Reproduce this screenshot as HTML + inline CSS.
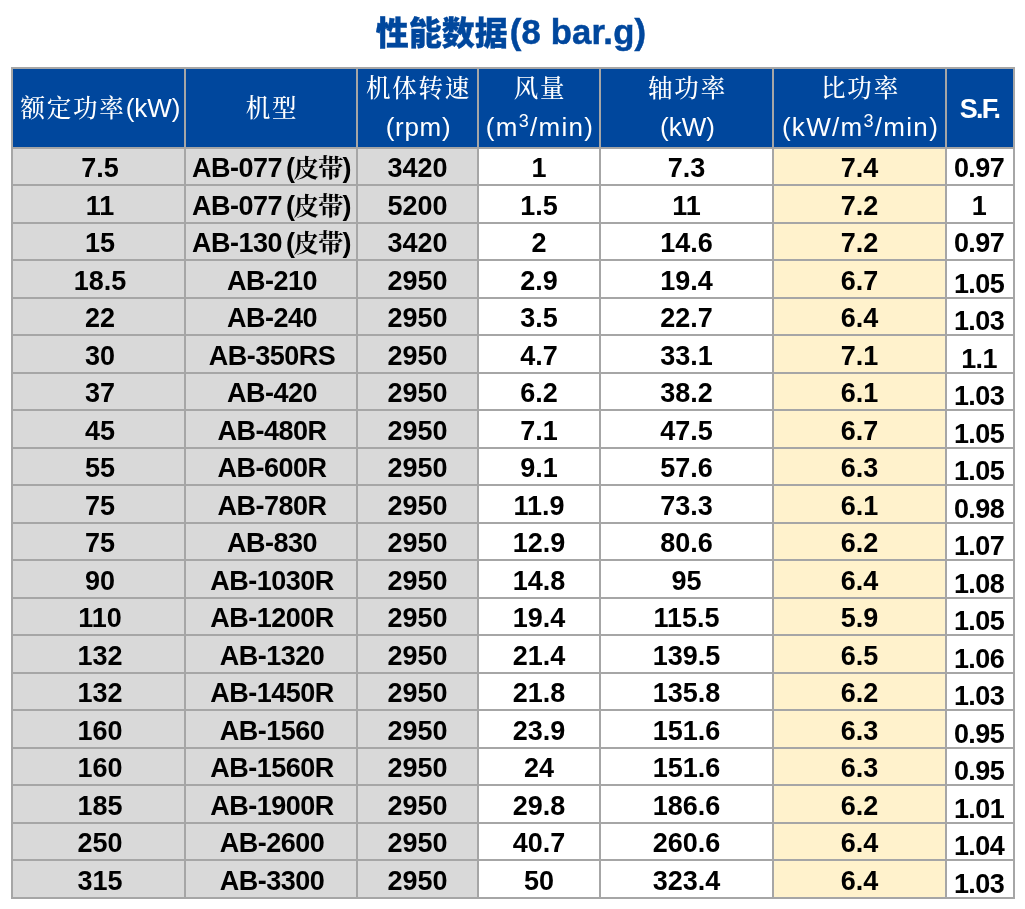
<!DOCTYPE html><html lang="zh-CN"><head><meta charset="utf-8"><title>性能数据(8 bar.g)</title><style>
html,body{margin:0;padding:0;background:#fff;}
body{width:1025px;height:909px;position:relative;overflow:hidden;font-family:"Liberation Sans","Noto Sans CJK SC",sans-serif;}
#title{position:absolute;left:-1.5px;top:8px;width:1025px;height:48px;line-height:48px;text-align:center;color:#00479d;font-weight:bold;font-size:34.67px;white-space:nowrap;}
#title .zh{font-family:"Noto Sans CJK SC",sans-serif;font-weight:900;font-size:33px;letter-spacing:0;line-height:0;position:relative;top:0.5px;margin-right:2px;-webkit-text-stroke:0.35px #00479d;}
#title .la{-webkit-text-stroke:0.5px #00479d;letter-spacing:0.2px;}
#grid{position:absolute;left:11px;top:67px;width:1004px;height:832px;background:#a6a6a6;}
.h,.d{position:absolute;text-align:center;white-space:nowrap;overflow:hidden;box-sizing:border-box;}
.h{background:#00479d;color:#fff;font-size:26.5px;top:69px;height:78px;line-height:39px;}
.h.one{line-height:78px;}
.h{padding-left:2px;}
.h1{padding-left:4px;}
.h7{padding-left:0;padding-right:1px;}
.h .c{font-family:"Noto Serif CJK SC","Noto Sans CJK SC",serif;font-weight:500;font-size:24.5px;letter-spacing:1.8px;line-height:0;}
.h .l{font-size:26px;}
.h sup{font-size:18px;line-height:0;vertical-align:baseline;position:relative;top:-9px;}
.h b{font-size:27px;letter-spacing:-1.7px;position:relative;top:1px;}
.d{color:#000;font-weight:bold;font-size:27px;}
.c1{padding-left:3px;}
.c2{letter-spacing:-0.5px;}
.c2.s{padding-left:2px;}
.c7{letter-spacing:-0.6px;padding-right:2px;}
.d .c{font-family:"Noto Serif CJK SC","Noto Sans CJK SC",serif;font-weight:700;line-height:0;font-size:25.5px;letter-spacing:-1px;}
.d .p{letter-spacing:-1.5px;margin-left:-3px;}
.g{background:#d9d9d9;}
.w{background:#fff;}
.y{background:#fff2cc;}
</style></head><body>
<div id="title"><span class="zh">性能数据</span><span class="la">(8 bar.g)</span></div>
<div id="grid"></div>
<div class="h one h1" style="left:13px;width:171px"><span class="c">额定功率</span><span class="l">(kW)</span></div>
<div class="h one h2" style="left:186px;width:170px"><span class="c">机型</span></div>
<div class="h h3" style="left:358px;width:119px"><span class="c">机体转速</span><br><span class="l" style="letter-spacing:0.7px">(rpm)</span></div>
<div class="h h4" style="left:479px;width:120px"><span class="c">风量</span><br><span class="l" style="letter-spacing:1.3px">(m<sup>3</sup>/min)</span></div>
<div class="h h5" style="left:601px;width:171px"><span class="c">轴功率</span><br><span class="l">(kW)</span></div>
<div class="h h6" style="left:774px;width:171px"><span class="c">比功率</span><br><span class="l" style="letter-spacing:1.3px">(kW/m<sup>3</sup>/min)</span></div>
<div class="h one h7" style="left:947px;width:66px"><b>S.F.</b></div>
<div class="d g c1" style="left:13px;top:149px;width:171px;height:35px;line-height:39px">7.5</div>
<div class="d g c2" style="left:186px;top:149px;width:170px;height:35px;line-height:39px">AB-077 <span class="p">(<span class="c">皮带</span>)</span></div>
<div class="d g c3" style="left:358px;top:149px;width:119px;height:35px;line-height:39px">3420</div>
<div class="d w c4" style="left:479px;top:149px;width:120px;height:35px;line-height:39px">1</div>
<div class="d w c5" style="left:601px;top:149px;width:171px;height:35px;line-height:39px">7.3</div>
<div class="d y c6" style="left:774px;top:149px;width:171px;height:35px;line-height:39px">7.4</div>
<div class="d w c7" style="left:947px;top:149px;width:66px;height:35px;line-height:39px">0.97</div>
<div class="d g c1" style="left:13px;top:186px;width:171px;height:36px;line-height:40px">11</div>
<div class="d g c2" style="left:186px;top:186px;width:170px;height:36px;line-height:40px">AB-077 <span class="p">(<span class="c">皮带</span>)</span></div>
<div class="d g c3" style="left:358px;top:186px;width:119px;height:36px;line-height:40px">5200</div>
<div class="d w c4" style="left:479px;top:186px;width:120px;height:36px;line-height:40px">1.5</div>
<div class="d w c5" style="left:601px;top:186px;width:171px;height:36px;line-height:40px">11</div>
<div class="d y c6" style="left:774px;top:186px;width:171px;height:36px;line-height:40px">7.2</div>
<div class="d w c7" style="left:947px;top:186px;width:66px;height:36px;line-height:40px">1</div>
<div class="d g c1" style="left:13px;top:224px;width:171px;height:35px;line-height:39px">15</div>
<div class="d g c2" style="left:186px;top:224px;width:170px;height:35px;line-height:39px">AB-130 <span class="p">(<span class="c">皮带</span>)</span></div>
<div class="d g c3" style="left:358px;top:224px;width:119px;height:35px;line-height:39px">3420</div>
<div class="d w c4" style="left:479px;top:224px;width:120px;height:35px;line-height:39px">2</div>
<div class="d w c5" style="left:601px;top:224px;width:171px;height:35px;line-height:39px">14.6</div>
<div class="d y c6" style="left:774px;top:224px;width:171px;height:35px;line-height:39px">7.2</div>
<div class="d w c7" style="left:947px;top:224px;width:66px;height:35px;line-height:39px">0.97</div>
<div class="d g c1" style="left:13px;top:261px;width:171px;height:36px;line-height:40px">18.5</div>
<div class="d g c2 s" style="left:186px;top:261px;width:170px;height:36px;line-height:40px">AB-210</div>
<div class="d g c3" style="left:358px;top:261px;width:119px;height:36px;line-height:40px">2950</div>
<div class="d w c4" style="left:479px;top:261px;width:120px;height:36px;line-height:40px">2.9</div>
<div class="d w c5" style="left:601px;top:261px;width:171px;height:36px;line-height:40px">19.4</div>
<div class="d y c6" style="left:774px;top:261px;width:171px;height:36px;line-height:40px">6.7</div>
<div class="d w c7" style="left:947px;top:261px;width:66px;height:36px;line-height:46px">1.05</div>
<div class="d g c1" style="left:13px;top:299px;width:171px;height:35px;line-height:39px">22</div>
<div class="d g c2 s" style="left:186px;top:299px;width:170px;height:35px;line-height:39px">AB-240</div>
<div class="d g c3" style="left:358px;top:299px;width:119px;height:35px;line-height:39px">2950</div>
<div class="d w c4" style="left:479px;top:299px;width:120px;height:35px;line-height:39px">3.5</div>
<div class="d w c5" style="left:601px;top:299px;width:171px;height:35px;line-height:39px">22.7</div>
<div class="d y c6" style="left:774px;top:299px;width:171px;height:35px;line-height:39px">6.4</div>
<div class="d w c7" style="left:947px;top:299px;width:66px;height:35px;line-height:45px">1.03</div>
<div class="d g c1" style="left:13px;top:336px;width:171px;height:36px;line-height:40px">30</div>
<div class="d g c2 s" style="left:186px;top:336px;width:170px;height:36px;line-height:40px">AB-350RS</div>
<div class="d g c3" style="left:358px;top:336px;width:119px;height:36px;line-height:40px">2950</div>
<div class="d w c4" style="left:479px;top:336px;width:120px;height:36px;line-height:40px">4.7</div>
<div class="d w c5" style="left:601px;top:336px;width:171px;height:36px;line-height:40px">33.1</div>
<div class="d y c6" style="left:774px;top:336px;width:171px;height:36px;line-height:40px">7.1</div>
<div class="d w c7" style="left:947px;top:336px;width:66px;height:36px;line-height:46px">1.1</div>
<div class="d g c1" style="left:13px;top:374px;width:171px;height:35px;line-height:39px">37</div>
<div class="d g c2 s" style="left:186px;top:374px;width:170px;height:35px;line-height:39px">AB-420</div>
<div class="d g c3" style="left:358px;top:374px;width:119px;height:35px;line-height:39px">2950</div>
<div class="d w c4" style="left:479px;top:374px;width:120px;height:35px;line-height:39px">6.2</div>
<div class="d w c5" style="left:601px;top:374px;width:171px;height:35px;line-height:39px">38.2</div>
<div class="d y c6" style="left:774px;top:374px;width:171px;height:35px;line-height:39px">6.1</div>
<div class="d w c7" style="left:947px;top:374px;width:66px;height:35px;line-height:45px">1.03</div>
<div class="d g c1" style="left:13px;top:411px;width:171px;height:36px;line-height:40px">45</div>
<div class="d g c2 s" style="left:186px;top:411px;width:170px;height:36px;line-height:40px">AB-480R</div>
<div class="d g c3" style="left:358px;top:411px;width:119px;height:36px;line-height:40px">2950</div>
<div class="d w c4" style="left:479px;top:411px;width:120px;height:36px;line-height:40px">7.1</div>
<div class="d w c5" style="left:601px;top:411px;width:171px;height:36px;line-height:40px">47.5</div>
<div class="d y c6" style="left:774px;top:411px;width:171px;height:36px;line-height:40px">6.7</div>
<div class="d w c7" style="left:947px;top:411px;width:66px;height:36px;line-height:46px">1.05</div>
<div class="d g c1" style="left:13px;top:449px;width:171px;height:35px;line-height:39px">55</div>
<div class="d g c2 s" style="left:186px;top:449px;width:170px;height:35px;line-height:39px">AB-600R</div>
<div class="d g c3" style="left:358px;top:449px;width:119px;height:35px;line-height:39px">2950</div>
<div class="d w c4" style="left:479px;top:449px;width:120px;height:35px;line-height:39px">9.1</div>
<div class="d w c5" style="left:601px;top:449px;width:171px;height:35px;line-height:39px">57.6</div>
<div class="d y c6" style="left:774px;top:449px;width:171px;height:35px;line-height:39px">6.3</div>
<div class="d w c7" style="left:947px;top:449px;width:66px;height:35px;line-height:45px">1.05</div>
<div class="d g c1" style="left:13px;top:486px;width:171px;height:36px;line-height:40px">75</div>
<div class="d g c2 s" style="left:186px;top:486px;width:170px;height:36px;line-height:40px">AB-780R</div>
<div class="d g c3" style="left:358px;top:486px;width:119px;height:36px;line-height:40px">2950</div>
<div class="d w c4" style="left:479px;top:486px;width:120px;height:36px;line-height:40px">11.9</div>
<div class="d w c5" style="left:601px;top:486px;width:171px;height:36px;line-height:40px">73.3</div>
<div class="d y c6" style="left:774px;top:486px;width:171px;height:36px;line-height:40px">6.1</div>
<div class="d w c7" style="left:947px;top:486px;width:66px;height:36px;line-height:46px">0.98</div>
<div class="d g c1" style="left:13px;top:524px;width:171px;height:35px;line-height:39px">75</div>
<div class="d g c2 s" style="left:186px;top:524px;width:170px;height:35px;line-height:39px">AB-830</div>
<div class="d g c3" style="left:358px;top:524px;width:119px;height:35px;line-height:39px">2950</div>
<div class="d w c4" style="left:479px;top:524px;width:120px;height:35px;line-height:39px">12.9</div>
<div class="d w c5" style="left:601px;top:524px;width:171px;height:35px;line-height:39px">80.6</div>
<div class="d y c6" style="left:774px;top:524px;width:171px;height:35px;line-height:39px">6.2</div>
<div class="d w c7" style="left:947px;top:524px;width:66px;height:35px;line-height:45px">1.07</div>
<div class="d g c1" style="left:13px;top:561px;width:171px;height:36px;line-height:40px">90</div>
<div class="d g c2 s" style="left:186px;top:561px;width:170px;height:36px;line-height:40px">AB-1030R</div>
<div class="d g c3" style="left:358px;top:561px;width:119px;height:36px;line-height:40px">2950</div>
<div class="d w c4" style="left:479px;top:561px;width:120px;height:36px;line-height:40px">14.8</div>
<div class="d w c5" style="left:601px;top:561px;width:171px;height:36px;line-height:40px">95</div>
<div class="d y c6" style="left:774px;top:561px;width:171px;height:36px;line-height:40px">6.4</div>
<div class="d w c7" style="left:947px;top:561px;width:66px;height:36px;line-height:46px">1.08</div>
<div class="d g c1" style="left:13px;top:599px;width:171px;height:35px;line-height:39px">110</div>
<div class="d g c2 s" style="left:186px;top:599px;width:170px;height:35px;line-height:39px">AB-1200R</div>
<div class="d g c3" style="left:358px;top:599px;width:119px;height:35px;line-height:39px">2950</div>
<div class="d w c4" style="left:479px;top:599px;width:120px;height:35px;line-height:39px">19.4</div>
<div class="d w c5" style="left:601px;top:599px;width:171px;height:35px;line-height:39px">115.5</div>
<div class="d y c6" style="left:774px;top:599px;width:171px;height:35px;line-height:39px">5.9</div>
<div class="d w c7" style="left:947px;top:599px;width:66px;height:35px;line-height:45px">1.05</div>
<div class="d g c1" style="left:13px;top:636px;width:171px;height:36px;line-height:40px">132</div>
<div class="d g c2 s" style="left:186px;top:636px;width:170px;height:36px;line-height:40px">AB-1320</div>
<div class="d g c3" style="left:358px;top:636px;width:119px;height:36px;line-height:40px">2950</div>
<div class="d w c4" style="left:479px;top:636px;width:120px;height:36px;line-height:40px">21.4</div>
<div class="d w c5" style="left:601px;top:636px;width:171px;height:36px;line-height:40px">139.5</div>
<div class="d y c6" style="left:774px;top:636px;width:171px;height:36px;line-height:40px">6.5</div>
<div class="d w c7" style="left:947px;top:636px;width:66px;height:36px;line-height:46px">1.06</div>
<div class="d g c1" style="left:13px;top:674px;width:171px;height:35px;line-height:39px">132</div>
<div class="d g c2 s" style="left:186px;top:674px;width:170px;height:35px;line-height:39px">AB-1450R</div>
<div class="d g c3" style="left:358px;top:674px;width:119px;height:35px;line-height:39px">2950</div>
<div class="d w c4" style="left:479px;top:674px;width:120px;height:35px;line-height:39px">21.8</div>
<div class="d w c5" style="left:601px;top:674px;width:171px;height:35px;line-height:39px">135.8</div>
<div class="d y c6" style="left:774px;top:674px;width:171px;height:35px;line-height:39px">6.2</div>
<div class="d w c7" style="left:947px;top:674px;width:66px;height:35px;line-height:45px">1.03</div>
<div class="d g c1" style="left:13px;top:711px;width:171px;height:36px;line-height:40px">160</div>
<div class="d g c2 s" style="left:186px;top:711px;width:170px;height:36px;line-height:40px">AB-1560</div>
<div class="d g c3" style="left:358px;top:711px;width:119px;height:36px;line-height:40px">2950</div>
<div class="d w c4" style="left:479px;top:711px;width:120px;height:36px;line-height:40px">23.9</div>
<div class="d w c5" style="left:601px;top:711px;width:171px;height:36px;line-height:40px">151.6</div>
<div class="d y c6" style="left:774px;top:711px;width:171px;height:36px;line-height:40px">6.3</div>
<div class="d w c7" style="left:947px;top:711px;width:66px;height:36px;line-height:46px">0.95</div>
<div class="d g c1" style="left:13px;top:749px;width:171px;height:35px;line-height:39px">160</div>
<div class="d g c2 s" style="left:186px;top:749px;width:170px;height:35px;line-height:39px">AB-1560R</div>
<div class="d g c3" style="left:358px;top:749px;width:119px;height:35px;line-height:39px">2950</div>
<div class="d w c4" style="left:479px;top:749px;width:120px;height:35px;line-height:39px">24</div>
<div class="d w c5" style="left:601px;top:749px;width:171px;height:35px;line-height:39px">151.6</div>
<div class="d y c6" style="left:774px;top:749px;width:171px;height:35px;line-height:39px">6.3</div>
<div class="d w c7" style="left:947px;top:749px;width:66px;height:35px;line-height:45px">0.95</div>
<div class="d g c1" style="left:13px;top:786px;width:171px;height:36px;line-height:40px">185</div>
<div class="d g c2 s" style="left:186px;top:786px;width:170px;height:36px;line-height:40px">AB-1900R</div>
<div class="d g c3" style="left:358px;top:786px;width:119px;height:36px;line-height:40px">2950</div>
<div class="d w c4" style="left:479px;top:786px;width:120px;height:36px;line-height:40px">29.8</div>
<div class="d w c5" style="left:601px;top:786px;width:171px;height:36px;line-height:40px">186.6</div>
<div class="d y c6" style="left:774px;top:786px;width:171px;height:36px;line-height:40px">6.2</div>
<div class="d w c7" style="left:947px;top:786px;width:66px;height:36px;line-height:46px">1.01</div>
<div class="d g c1" style="left:13px;top:824px;width:171px;height:35px;line-height:39px">250</div>
<div class="d g c2 s" style="left:186px;top:824px;width:170px;height:35px;line-height:39px">AB-2600</div>
<div class="d g c3" style="left:358px;top:824px;width:119px;height:35px;line-height:39px">2950</div>
<div class="d w c4" style="left:479px;top:824px;width:120px;height:35px;line-height:39px">40.7</div>
<div class="d w c5" style="left:601px;top:824px;width:171px;height:35px;line-height:39px">260.6</div>
<div class="d y c6" style="left:774px;top:824px;width:171px;height:35px;line-height:39px">6.4</div>
<div class="d w c7" style="left:947px;top:824px;width:66px;height:35px;line-height:45px">1.04</div>
<div class="d g c1" style="left:13px;top:861px;width:171px;height:36px;line-height:40px">315</div>
<div class="d g c2 s" style="left:186px;top:861px;width:170px;height:36px;line-height:40px">AB-3300</div>
<div class="d g c3" style="left:358px;top:861px;width:119px;height:36px;line-height:40px">2950</div>
<div class="d w c4" style="left:479px;top:861px;width:120px;height:36px;line-height:40px">50</div>
<div class="d w c5" style="left:601px;top:861px;width:171px;height:36px;line-height:40px">323.4</div>
<div class="d y c6" style="left:774px;top:861px;width:171px;height:36px;line-height:40px">6.4</div>
<div class="d w c7" style="left:947px;top:861px;width:66px;height:36px;line-height:46px">1.03</div>
</body></html>
